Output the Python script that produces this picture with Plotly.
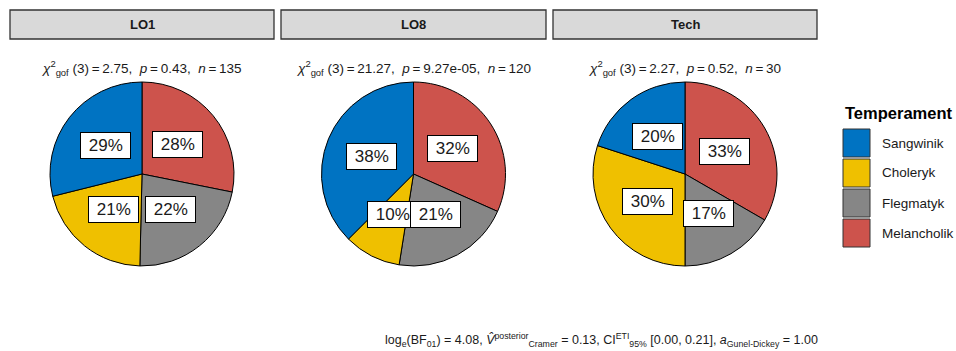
import math
import plotly.graph_objects as go

W, H = 956, 351

# ---- data ----
groups = ["LO1", "LO8", "Tech"]
categories = ["Sangwinik", "Choleryk", "Flegmatyk", "Melancholik"]
colors = ["#0073C2", "#EFC000", "#868686", "#CD534C"]
counts_lo1 = [39, 28, 30, 38]
counts_lo8 = [45, 12, 25, 38]
counts_tech = [6, 9, 5, 10]
chi2_values = ["2.75", "21.27", "2.27"]
p_values = ["0.43", "9.27e-05", "0.52"]
bf_caption = ("log<sub>e</sub>(BF<sub>01</sub>) = 4.08, "
              "<i>V\u0302</i><sup>posterior</sup><sub>Cramer</sub> = 0.13, "
              "CI<sup>ETI</sup><sub>95%</sub> [0.00, 0.21], "
              "<i>a</i><sub>Gunel-Dickey</sub> = 1.00")

all_counts = [counts_lo1, counts_lo8, counts_tech]

# ---- panel geometry (pixels) ----
strip_x = [(10, 274), (281, 546), (553, 817)]
strip_y = (10, 39)
pie_cy = 174
pie_r = 92
FONT = "Liberation Sans, Arial, sans-serif"


def px(x):
    return x / W


def py(y):
    return 1 - y / H


fig = go.Figure()
shapes = []
annotations = []

for gi, (group, counts) in enumerate(zip(groups, all_counts)):
    x0, x1 = strip_x[gi]
    cx = (x0 + x1) / 2
    n = sum(counts)

    # slices run counter-clockwise from 12 o'clock in category order,
    # i.e. clockwise in reversed order
    fig.add_trace(go.Pie(
        labels=categories[::-1],
        values=counts[::-1],
        sort=False,
        direction="clockwise",
        rotation=0,
        marker=dict(colors=colors[::-1], line=dict(color="#000000", width=1)),
        textinfo="none",
        hoverinfo="label+value+percent",
        showlegend=False,
        domain=dict(x=[px(cx - pie_r), px(cx + pie_r)],
                    y=[py(pie_cy + pie_r), py(pie_cy - pie_r)]),
    ))

    # facet strip
    shapes.append(dict(type="rect", xref="paper", yref="paper",
                       x0=px(x0), x1=px(x1), y0=py(strip_y[1]), y1=py(strip_y[0]),
                       fillcolor="#D9D9D9", line=dict(color="#333333", width=1.3),
                       layer="above"))
    annotations.append(dict(xref="paper", yref="paper", x=px(cx),
                            y=py((strip_y[0] + strip_y[1]) / 2),
                            text=f"<b>{group}</b>", showarrow=False,
                            font=dict(family=FONT, size=13, color="#1A1A1A"),
                            xanchor="center", yanchor="middle"))

    # test statistic subtitle
    sub = (f"<i>\u03c7</i><sup>2</sup><sub>gof</sub> (3)\u2009=\u2009{chi2_values[gi]},  "
           f"<i>p</i>\u2009=\u2009{p_values[gi]},  <i>n</i>\u2009=\u2009{n}")
    annotations.append(dict(xref="paper", yref="paper", x=px(cx), y=py(68),
                            text=sub, showarrow=False,
                            font=dict(family=FONT, size=13.5, color="#1A1A1A"),
                            xanchor="center", yanchor="middle"))

    # percentage labels at half radius of each slice
    cum = 0
    for c in counts:
        frac = c / n
        theta = 2 * math.pi * (cum + frac / 2)
        lx = cx - 0.5 * pie_r * math.sin(theta)
        ly = pie_cy - 0.5 * pie_r * math.cos(theta)
        pct = int(frac * 100 + 0.5)
        annotations.append(dict(xref="paper", yref="paper", x=px(lx), y=py(ly),
                                text=f" {pct}% ", showarrow=False,
                                font=dict(family=FONT, size=17, color="#1A1A1A"),
                                bgcolor="#FFFFFF", bordercolor="#000000",
                                borderwidth=1, borderpad=3,
                                xanchor="center", yanchor="middle"))
        cum += frac

# ---- legend ----
leg_x = 843
annotations.append(dict(xref="paper", yref="paper", x=px(leg_x), y=py(113),
                        text="<b>Temperament</b>", showarrow=False,
                        font=dict(family=FONT, size=16.5, color="#000000"),
                        xanchor="left", yanchor="middle"))
for i, (cat, col) in enumerate(zip(categories, colors)):
    yc = 143 + 30 * i
    shapes.append(dict(type="rect", xref="paper", yref="paper",
                       x0=px(leg_x), x1=px(leg_x + 27),
                       y0=py(yc + 14), y1=py(yc - 14),
                       fillcolor=col, line=dict(color="#333333", width=1)))
    annotations.append(dict(xref="paper", yref="paper", x=px(880), y=py(yc),
                            text=cat, showarrow=False,
                            font=dict(family=FONT, size=13.5, color="#1A1A1A"),
                            xanchor="left", yanchor="middle"))

# ---- caption ----
annotations.append(dict(xref="paper", yref="paper", x=px(820), y=py(340),
                        text=bf_caption, showarrow=False,
                        font=dict(family=FONT, size=12.5, color="#1A1A1A"),
                        xanchor="right", yanchor="middle"))

fig.update_layout(
    width=W, height=H,
    margin=dict(l=0, r=0, t=0, b=0),
    paper_bgcolor="#FFFFFF",
    plot_bgcolor="#FFFFFF",
    shapes=shapes,
    annotations=annotations,
    font=dict(family=FONT),
)

fig.write_html("out.html")
